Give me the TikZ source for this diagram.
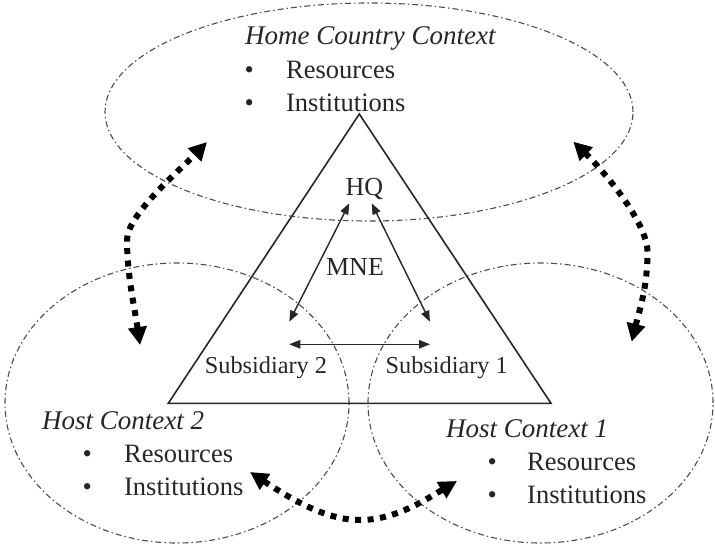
\documentclass[tikz,border=0pt]{standalone}
\usepackage{fontspec}
\setmainfont{Liberation Serif}
\usetikzlibrary{arrows.meta,shapes.geometric}

\begin{document}
\begin{tikzpicture}[x=1pt,y=-1pt,
  context/.style={ellipse, draw=black!70, line width=1.1pt,
    dash pattern=on 6pt off 3pt on 1.5pt off 3pt, inner sep=0pt, outer sep=0pt},
  firm/.style={draw=black!85, line width=1.6pt, line join=miter},
  link/.style={draw=black!85, line width=1.4pt,
    {Triangle[length=11pt,width=8.5pt]}-{Triangle[length=11pt,width=8.5pt]}},
  spill/.style={draw=black, line width=6pt, dash pattern=on 6pt off 6.5pt,
    {Triangle[length=18pt,width=18pt]}-{Triangle[length=18pt,width=18pt]}},
  ctxtitle/.style={font=\fontsize{27}{32}\selectfont\itshape, text=black!85,
    inner sep=0pt, anchor=base west},
  listitem/.style={font=\fontsize{26.5}{32}\selectfont, text=black!85,
    inner sep=0pt, anchor=base west},
  unit/.style={font=\fontsize{26}{30}\selectfont, text=black!85,
    inner sep=0pt, anchor=base},
  subunit/.style={font=\fontsize{24.3}{28}\selectfont, text=black!85,
    inner sep=0pt, anchor=base},
]
\useasboundingbox (0,0) rectangle (715,546);

% the three institutional contexts
\node[context, minimum width=528pt, minimum height=218pt] (home) at (369,112) {};
\node[context, minimum width=344pt, minimum height=280pt] (host2) at (177,403) {};
\node[context, minimum width=345pt, minimum height=280pt] (host1) at (540.5,403) {};

% the MNE triangle
\coordinate (apex) at (359.3,114);
\coordinate (baseR) at (551,403.3);
\coordinate (baseL) at (168.3,403.3);
\draw[firm] (apex) -- (baseR) -- (baseL) -- cycle;

% units of the firm
\node[unit] (hq) at (364.5,195) {HQ};
\node[unit] (mne) at (355,275) {MNE};
\node[subunit] (sub2) at (266,373) {Subsidiary 2};
\node[subunit] (sub1) at (446.7,373) {Subsidiary 1};

% arrow ends inside the triangle
\coordinate (hqL) at (349.3,203.3);
\coordinate (hqR) at (371.7,203.3);
\coordinate (sub2up) at (289.3,321.7);
\coordinate (sub1up) at (430,321.7);
\coordinate (sub2side) at (289.3,344.3);
\coordinate (sub1side) at (430,344.3);
\draw[link] (hqL) -- (sub2up);
\draw[link] (hqR) -- (sub1up);
\draw[link] (sub2side) -- (sub1side);

% context labels
\node[ctxtitle] (hometitle) at (245,44) {Home Country Context};
\node[listitem] (homeres) at (244.5,78) {\makebox[41.5pt][l]{•}Resources};
\node[listitem] (homeinst) at (244.5,111) {\makebox[41.5pt][l]{•}Institutions};

\node[ctxtitle] (host2title) at (42,429) {Host Context 2};
\node[listitem] (host2res) at (82.5,462) {\makebox[41.5pt][l]{•}Resources};
\node[listitem] (host2inst) at (82.5,495) {\makebox[41.5pt][l]{•}Institutions};

\node[ctxtitle] (host1title) at (446,437) {Host Context 1};
\node[listitem] (host1res) at (487.5,470) {\makebox[39.5pt][l]{•}Resources};
\node[listitem] (host1inst) at (487.5,503) {\makebox[39.5pt][l]{•}Institutions};

% interaction between contexts
\coordinate (homeL) at (207,142);
\coordinate (host2top) at (140,345);
\coordinate (homeR) at (573.3,141.7);
\coordinate (host1top) at (631.7,341.7);
\coordinate (host2side) at (250,472);
\coordinate (host1side) at (457,481);

\draw[spill] (host2top) .. controls (135,310) and (127,275) .. (127,240)
  .. controls (127,215) and (179,171) .. (homeL);
\draw[spill] (host1top) .. controls (640,308) and (647.5,287) .. (647.5,252)
  .. controls (647.5,222) and (602,169.3) .. (homeR);
\draw[spill] (host2side) .. controls (300,505) and (330,520) .. (360,520)
  .. controls (395,520) and (425,500) .. (host1side);
\end{tikzpicture}
\end{document}
